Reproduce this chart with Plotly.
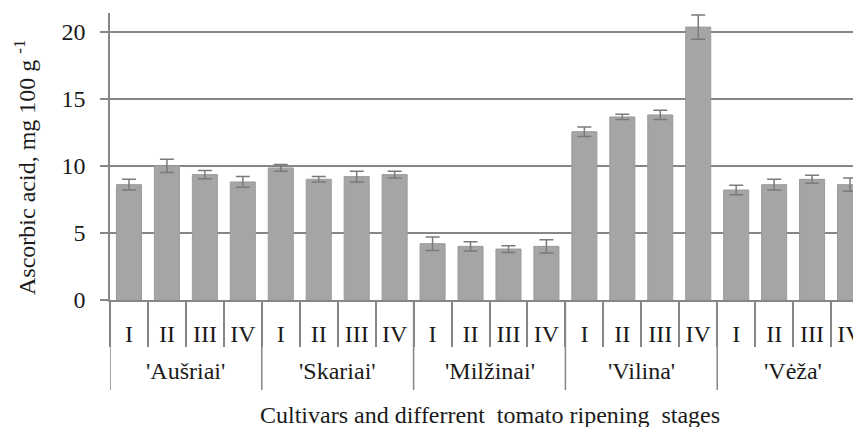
import plotly.graph_objects as go

# data
cultivars = ["'Aušriai'", "'Skariai'", "'Milžinai'", "'Vilina'", "'Vėža'"]
stages = ["I", "II", "III", "IV"]
ascorbic = [
    [8.6, 10.0, 9.35, 8.8],
    [9.85, 9.0, 9.2, 9.35],
    [4.2, 4.0, 3.8, 4.0],
    [12.55, 13.65, 13.8, 20.35],
    [8.2, 8.6, 9.0, 8.6],
]
errors = [
    [0.4, 0.5, 0.3, 0.4],
    [0.25, 0.2, 0.4, 0.25],
    [0.5, 0.35, 0.25, 0.5],
    [0.35, 0.2, 0.35, 0.9],
    [0.35, 0.4, 0.3, 0.5],
]

x_ids, x_stage, y_vals, y_err = [], [], [], []
for c, vals, errs in zip(cultivars, ascorbic, errors):
    for s, v, e in zip(stages, vals, errs):
        x_ids.append(f"{c} {s}")
        x_stage.append(s)
        y_vals.append(v)
        y_err.append(e)

GREY = "#868686"
TEXT = "#1a1a1a"
FONT = "Liberation Serif, Times New Roman, serif"
FS = 24

# page body adds 8px offset, margins compensate for it
H = 427
MT, MB = 5, 135
plot_h = H - MT - MB

fig = go.Figure()
fig.add_trace(go.Bar(
    x=x_ids,
    y=y_vals,
    marker=dict(color="#a5a5a5", line=dict(color="#9c9c9c", width=1)),
    error_y=dict(type="data", array=y_err, visible=True,
                 color="#7a7a7a", thickness=1.5, width=7),
))

# group labels and the long dividers between cultivars
n = len(stages)
for k, c in enumerate(cultivars):
    fig.add_annotation(x=k * n + (n - 1) / 2, y=0, xref="x", yref="paper",
                       text=c, showarrow=False, yanchor="middle", yshift=-71,
                       font=dict(family=FONT, size=FS, color=TEXT))
for k in range(len(cultivars) + 1):
    fig.add_shape(type="line", xref="x", yref="paper",
                  x0=k * n - 0.5, x1=k * n - 0.5, y0=0, y1=-90 / plot_h,
                  line=dict(color=GREY, width=1.5))

fig.add_annotation(x=0.5, y=0, xref="paper", yref="paper",
                   text="Cultivars and differrent  tomato ripening  stages",
                   showarrow=False, yanchor="middle", yshift=-115,
                   font=dict(family=FONT, size=FS, color=TEXT))

# y title sits a bit below the middle of the axis in the original
fig.add_annotation(x=0, y=0.46, xref="paper", yref="paper",
                   text="Ascorbic acid, mg 100 g <sup>-1</sup>",
                   textangle=-90, showarrow=False,
                   xanchor="center", yanchor="middle", xshift=-85,
                   font=dict(family=FONT, size=FS, color=TEXT))

fig.update_layout(
    width=861, height=H,
    margin=dict(l=102, r=0, t=MT, b=MB),
    plot_bgcolor="white", paper_bgcolor="white",
    font=dict(family=FONT, size=FS, color=TEXT),
    bargap=0.34,
    showlegend=False,
)
fig.update_xaxes(
    type="category",
    tickvals=x_ids, ticktext=x_stage,
    range=[-0.5, 19.5],
    showline=True, linecolor=GREY, linewidth=1.5,
    ticks="outside", tickson="boundaries", ticklen=45,
    tickcolor=GREY, tickwidth=1.5,
    ticklabelstandoff=11,
    showgrid=False,
)
fig.update_yaxes(
    range=[0, 21.4],
    tickvals=[0, 5, 10, 15, 20],
    showline=True, linecolor=GREY, linewidth=1.5,
    ticks="outside", ticklen=8, tickcolor=GREY, tickwidth=1.5,
    ticklabelstandoff=10,
    showgrid=True, gridcolor=GREY, gridwidth=1.5,
    zeroline=False,
)

fig.write_html("out.html")
